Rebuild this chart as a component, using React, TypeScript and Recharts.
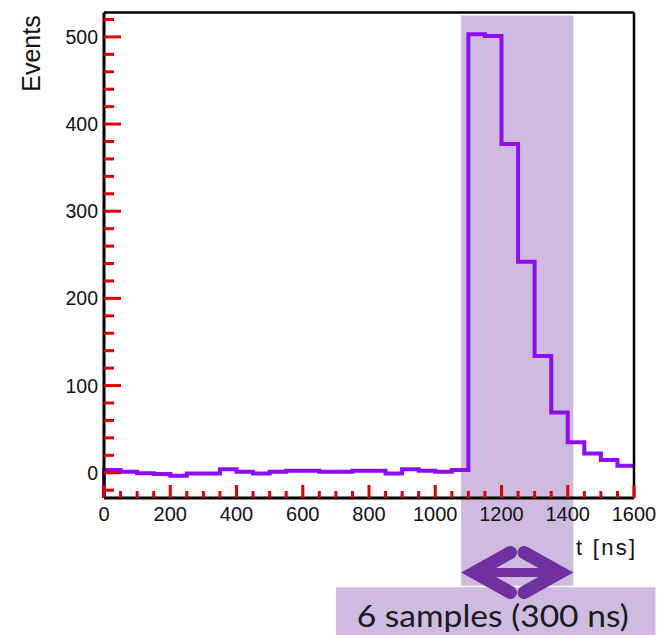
import {
  LineChart,
  Line,
  XAxis,
  YAxis,
  ReferenceArea,
  ReferenceLine,
} from "recharts";

// bin lower edges in ns (50 ns bins)
const binEdges = [
  0, 50, 100, 150, 200, 250, 300, 350, 400, 450, 500, 550, 600, 650, 700, 750,
  800, 850, 900, 950, 1000, 1050, 1100, 1150, 1200, 1250, 1300, 1350, 1400,
  1450, 1500, 1550,
];
const counts = [
  3, 1, -0.5, -1.5, -3.5, -1, -1, 4, 1, -1, 1, 2.3, 2.3, 1, 1, 2.3, 2.3, -1, 4,
  2.3, 1, 3, 503, 501, 377, 242, 134, 69, 35, 22, 14.6, 8,
];
const xMax = 1600;
const yMin = -29;
const yMax = 528;

const xMajor = [0, 200, 400, 600, 800, 1000, 1200, 1400, 1600];
const yMajor = [0, 100, 200, 300, 400, 500];
const xMinor = [
  50, 100, 150, 250, 300, 350, 450, 500, 550, 650, 700, 750, 850, 900, 950,
  1050, 1100, 1150, 1250, 1300, 1350, 1450, 1500, 1550,
];
const yMinor = [
  -20, 20, 40, 60, 80, 120, 140, 160, 180, 220, 240, 260, 280, 320, 340, 360,
  380, 420, 440, 460, 480, 520,
];

// shaded window and annotation box
const windowStart = 1078;
const windowEnd = 1417;
const windowTop = 524.5;
const windowBottom = -129.7;
const boxLeft = 700;
const boxRight = 1665;
const boxTop = -131.5;
const boxBottom = -186.5;
const arrowTop = -88;
const arrowBottom = -141;

const HIST = "#8e0cf2";
const PURPLE = "#7030a0";
const FONT = "'Liberation Sans', Arial, sans-serif";
const TICK_COLOR = "#e00000";

const chartData = [
  { t: 0, v: yMin },
  ...binEdges.map((t, i) => ({ t, v: counts[i] })),
  { t: xMax, v: counts[counts.length - 1] },
];

function XLabel(props: any) {
  const x = Number(props.x);
  const y = Number(props.y);
  const v = props.payload.value;
  const len = xMajor.includes(v) ? 13 : 7;
  return (
    <g>
      <line x1={x} y1={y} x2={x} y2={y - len} stroke={TICK_COLOR} strokeWidth={3} />
      {xMajor.includes(v) && (
        <text x={x} y={y + 22.7} textAnchor="middle" fontSize={20} fontFamily={FONT} fill="#111">
          {v}
        </text>
      )}
    </g>
  );
}

function YLabel(props: any) {
  const x = Number(props.x);
  const y = Number(props.y);
  const v = props.payload.value;
  const len = yMajor.includes(v) ? 17 : 10;
  return (
    <g>
      <line x1={x} y1={y} x2={x + len} y2={y} stroke={TICK_COLOR} strokeWidth={3} />
      {yMajor.includes(v) && (
        <text x={x - 6} y={y + 7} textAnchor="end" fontSize={19.5} fontFamily={FONT} fill="#111">
          {v}
        </text>
      )}
    </g>
  );
}

function DoubleArrow({ x, y, width, height }: any) {
  const cy = y + height / 2;
  const sw = 13;
  const armDx = 36;
  const armDy = 20;
  const miter = sw / 2 / Math.sin(Math.atan2(armDy, armDx));
  const lx = x + miter;
  const rx = x + width - miter;
  return (
    <g>
      <line x1={lx} x2={rx} y1={cy} y2={cy} stroke={PURPLE} strokeWidth={9} />
      <polyline
        points={`${lx + armDx},${cy - armDy} ${lx},${cy} ${lx + armDx},${cy + armDy}`}
        fill="none"
        stroke={PURPLE}
        strokeWidth={sw}
        strokeLinecap="round"
        strokeLinejoin="miter"
        strokeMiterlimit={10}
      />
      <polyline
        points={`${rx - armDx},${cy - armDy} ${rx},${cy} ${rx - armDx},${cy + armDy}`}
        fill="none"
        stroke={PURPLE}
        strokeWidth={sw}
        strokeLinecap="round"
        strokeLinejoin="miter"
        strokeMiterlimit={10}
      />
    </g>
  );
}

export default function App() {
  return (
    <div style={{ position: "absolute", left: 0, top: 0, background: "#fff" }}>
      <LineChart
        width={660}
        height={635}
        data={chartData}
        margin={{ top: 12.5, right: 26, left: 0, bottom: 0 }}
      >
        <XAxis
          dataKey="t"
          type="number"
          domain={[0, xMax]}
          ticks={[...xMajor, ...xMinor]}
          interval={0}
          tickSize={0}
          tickMargin={0}
          tick={(p: any) => <XLabel {...p} />}
          height={137}
          axisLine={{ stroke: "#000", strokeWidth: 3 }}
          label={(props: any) => {
            const vb = props.viewBox;
            return (
              <text
                x={vb.x + vb.width + 1}
                y={vb.y + 57}
                textAnchor="end"
                fontSize={22}
                fontFamily={FONT}
                fill="#111"
                textLength={59}
                lengthAdjust="spacing"
              >
                t [ns]
              </text>
            );
          }}
        />
        <YAxis
          type="number"
          domain={[yMin, yMax]}
          ticks={[...yMajor, ...yMinor]}
          interval={0}
          tickSize={0}
          tickMargin={0}
          tick={(p: any) => <YLabel {...p} />}
          width={104}
          axisLine={{ stroke: "#000", strokeWidth: 3 }}
          label={(props: any) => {
            const vb = props.viewBox;
            const lx = vb.x + 40;
            const ly = vb.y + 41;
            return (
              <text
                x={lx}
                y={ly}
                transform={`rotate(-90, ${lx}, ${ly})`}
                textAnchor="middle"
                fontSize={25}
                fontFamily={FONT}
                fill="#111"
              >
                Events
              </text>
            );
          }}
        />
        <Line
          type="stepAfter"
          dataKey="v"
          stroke={HIST}
          strokeWidth={4}
          dot={false}
          isAnimationActive={false}
        />
        <ReferenceLine x={xMax} stroke="#000" strokeWidth={2.5} />
        <ReferenceLine y={yMax} stroke="#000" strokeWidth={2.5} />
        <ReferenceArea
          x1={windowStart}
          x2={windowEnd}
          y1={windowBottom}
          y2={windowTop}
          ifOverflow="visible"
          fill={PURPLE}
          fillOpacity={0.33}
          stroke="none"
        />
        <ReferenceArea
          x1={boxLeft}
          x2={boxRight}
          y1={boxBottom}
          y2={boxTop}
          ifOverflow="visible"
          fill={PURPLE}
          fillOpacity={0.33}
          stroke="none"
          label={(props: any) => {
            const vb = props.viewBox;
            return (
              <text
                x={vb.x + vb.width / 2 - 3}
                y={vb.y + 40}
                textAnchor="middle"
                fontSize={30}
                fontFamily="Lato, 'Noto Sans', sans-serif"
                fill="#1a1a1a"
                textLength={272}
                lengthAdjust="spacingAndGlyphs"
              >
                6 samples (300 ns)
              </text>
            );
          }}
        />
        <ReferenceArea
          x1={windowStart}
          x2={windowEnd}
          y1={arrowBottom}
          y2={arrowTop}
          ifOverflow="visible"
          shape={<DoubleArrow />}
        />
      </LineChart>
    </div>
  );
}
